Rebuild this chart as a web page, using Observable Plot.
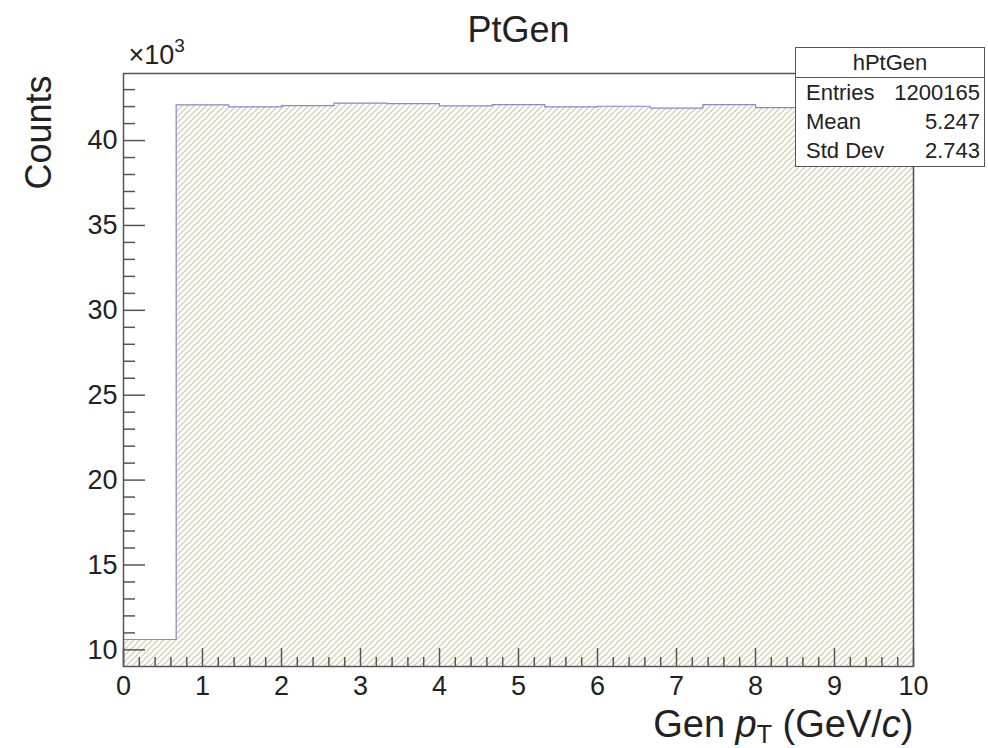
<!DOCTYPE html>
<html>
<head>
<meta charset="utf-8">
<script src="https://cdn.jsdelivr.net/npm/d3@7"></script>
<script src="https://cdn.jsdelivr.net/npm/@observablehq/plot@0.6"></script>
<style>
  html, body { margin: 0; padding: 0; background: #fff; }
  #wrap { position: relative; width: 988px; height: 748px; overflow: hidden; font-family: "Liberation Sans", Arial, sans-serif; }
  #stats { position: absolute; left: 795px; top: 47px; width: 190px; height: 120px; background: #fff; border: 1px solid #555; box-sizing: border-box; font-size: 22px; color: #222; }
  #stats .hdr { height: 29px; line-height: 29px; text-align: center; border-bottom: 1px solid #555; }
  #stats .row { display: flex; justify-content: space-between; height: 29px; line-height: 29px; padding: 0 4px 0 10px; }
</style>
</head>
<body>
<div id="wrap"></div>
<script>
// ---- data (counts in units of 10^3) ----
const histName = "hPtGen";
const title = "PtGen";
const xMin = 0, xMax = 10, nBins = 15;
const binCounts = [10.61, 42.10, 41.98, 42.06, 42.20, 42.18, 42.04, 42.12, 41.98, 42.02, 41.91, 42.12, 41.94, 42.05, 42.35];
const yDomain = [9.02, 43.95];
const yMajorTicks = [10, 15, 20, 25, 30, 35, 40];
const xMajorTicks = [0, 1, 2, 3, 4, 5, 6, 7, 8, 9, 10];
const statLabels = ["Entries", "Mean", "Std Dev"];
const statValues = ["1200165", "5.247", "2.743"];

// ---- derived tables ----
const binW = (xMax - xMin) / nBins;
const bins = binCounts.map((c, i) => ({x1: xMin + i * binW, x2: xMin + (i + 1) * binW, count: c}));
const outline = [{x: xMin, y: yDomain[0]}]
  .concat(bins.map(b => ({x: b.x1, y: b.count})))
  .concat([{x: xMax, y: binCounts[binCounts.length - 1]}, {x: xMax, y: yDomain[0]}]);
const yMinorTicks = d3.range(10, 44).filter(v => v % 5 !== 0);
const xMinorTicks = d3.range(1, 50).filter(v => v % 5 !== 0).map(v => v / 5);

const W = 988, H = 748, mL = 123, mR = 75, mT = 73, mB = 82;
const plotW = W - mL - mR, plotH = H - mT - mB;
const axisColor = "#555";
const font = "Liberation Sans, Arial, sans-serif";

const chart = Plot.plot({
  width: W, height: H,
  marginLeft: mL, marginRight: mR, marginTop: mT, marginBottom: mB,
  style: {fontFamily: font, fontSize: "27px", color: "#222", background: "transparent", overflow: "visible"},
  x: {domain: [xMin, xMax]},
  y: {domain: yDomain},
  marks: [
    Plot.rectY(bins, {x1: "x1", x2: "x2", y: "count", fill: "url(#hatch)", clip: true}),
    Plot.line(outline, {x: "x", y: "y", curve: "step-after", stroke: "#8787d8", strokeWidth: 1.2}),
    Plot.tickY(yMajorTicks, {y: d => d, insetRight: plotW - 22, stroke: axisColor, strokeWidth: 1.5}),
    Plot.tickY(yMinorTicks, {y: d => d, insetRight: plotW - 12, stroke: axisColor, strokeWidth: 1.5}),
    Plot.tickX(xMajorTicks, {x: d => d, insetTop: plotH - 18, stroke: axisColor, strokeWidth: 1.5}),
    Plot.tickX(xMinorTicks, {x: d => d, insetTop: plotH - 9, stroke: axisColor, strokeWidth: 1.5}),
    Plot.frame({stroke: axisColor, strokeWidth: 1.5}),
    Plot.axisY({ticks: yMajorTicks, tickSize: 0, tickPadding: 6, label: null, fontSize: 27}),
    Plot.axisX({ticks: xMajorTicks, tickSize: 0, tickPadding: 9, label: null, fontSize: 27}),
    Plot.text([title], {frameAnchor: "top", lineAnchor: "bottom", dy: -32, fontSize: 36, fill: "#222"}),
    Plot.text(["Counts"], {frameAnchor: "top-left", textAnchor: "end", lineAnchor: "bottom", rotate: -90, dx: -73, dy: 2, fontSize: 36, fill: "#222"}),
    Plot.text(["×10^3"], {frameAnchor: "top-left", textAnchor: "start", lineAnchor: "bottom", dx: 5, dy: -10, fontSize: 27, fill: "#222"}),
    Plot.text(["Gen pT (GeV/c)"], {frameAnchor: "bottom-right", textAnchor: "end", lineAnchor: "bottom", dy: 70, fontSize: 38, fill: "#222"})
  ]
});

// hatch pattern definition
const svg = d3.select(chart);
const defs = svg.insert("defs", ":first-child");
const s = 6;
const pat = defs.append("pattern").attr("id", "hatch").attr("patternUnits", "userSpaceOnUse")
  .attr("width", s).attr("height", s);
pat.append("rect").attr("width", s).attr("height", s).attr("fill", "#fff");
pat.append("path").attr("d", `M0,${s} L${s},0 M${-s/2},${s/2} L${s/2},${-s/2} M${s/2},${s*1.5} L${s*1.5},${s/2}`)
  .attr("stroke", "#dacdb2").attr("stroke-width", 1.3);

// rich text: superscript / italic / subscript
svg.selectAll("text").each(function() {
  const t = d3.select(this);
  const txt = this.textContent;
  if (txt === "×10^3") {
    t.text(null);
    t.append("tspan").text("×10");
    t.append("tspan").attr("dy", -12).attr("font-size", 19).text("3");
  } else if (txt === "Gen pT (GeV/c)") {
    t.text(null);
    t.append("tspan").text("Gen ");
    t.append("tspan").attr("font-style", "italic").text("p");
    t.append("tspan").attr("dy", 6).attr("font-size", 25).text("T");
    t.append("tspan").attr("dy", -6).text(" (GeV/");
    t.append("tspan").attr("font-style", "italic").text("c");
    t.append("tspan").text(")");
  }
});

const wrap = document.getElementById("wrap");
wrap.appendChild(chart);

// statistics box (overlay)
const box = d3.select(wrap).append("div").attr("id", "stats");
box.append("div").attr("class", "hdr").text(histName);
statLabels.forEach((l, i) => {
  const r = box.append("div").attr("class", "row");
  r.append("span").text(l);
  r.append("span").text(statValues[i]);
});
</script>
</body>
</html>
